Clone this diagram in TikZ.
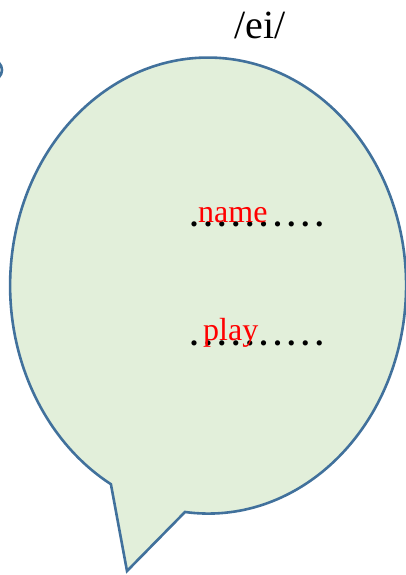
\documentclass[tikz,border=0pt]{standalone}
\usepackage{fontspec}
\setmainfont{Liberation Serif}
\definecolor{bubbleline}{HTML}{41719C}
\definecolor{bubblefill}{HTML}{E2EFDA}
\newcommand\dt{.\kern5.9pt}
\begin{document}
\begin{tikzpicture}[x=1pt,y=1pt,
  every node/.style={inner sep=0pt,anchor=base west},
  bubble/.style={draw=bubbleline,fill=bubblefill,line width=2.6pt,line join=miter},
  word/.style={text=red,font=\fontsize{32}{32}\selectfont},
  dotrow/.style={font=\fontsize{32}{32}\selectfont\bfseries}]
  \useasboundingbox (0,0) rectangle (406,575);
  \clip (0,0) rectangle (406,575);
  % speech bubble with tail
  \coordinate (tailA) at (112,91);
  \coordinate (tailB) at (185,63);
  \coordinate (tip) at (127,4);
  \draw[bubble] (tailB) arc[start angle=263.3,end angle=600.6,x radius=198,y radius=228] -- (tip) -- cycle;
  % piece of a shape cut off at the left edge
  \draw[bubbleline,line width=2.6pt] (-8,505) circle[radius=10];
  \node[font=\fontsize{40}{40}\selectfont,anchor=base] (sound) at (260,536) {/ei/};
  \node[dotrow] (dots1) at (190,348) {\dt\dt\dt\dt\dt\dt\dt\dt\dt.};
  \node[word] (word1) at (198,352) {name};
  \node[dotrow] (dots2) at (190,229) {\dt\dt\dt\dt\dt\dt\dt\dt\dt.};
  \node[word] (word2) at (203,234) {play};
\end{tikzpicture}
\end{document}
